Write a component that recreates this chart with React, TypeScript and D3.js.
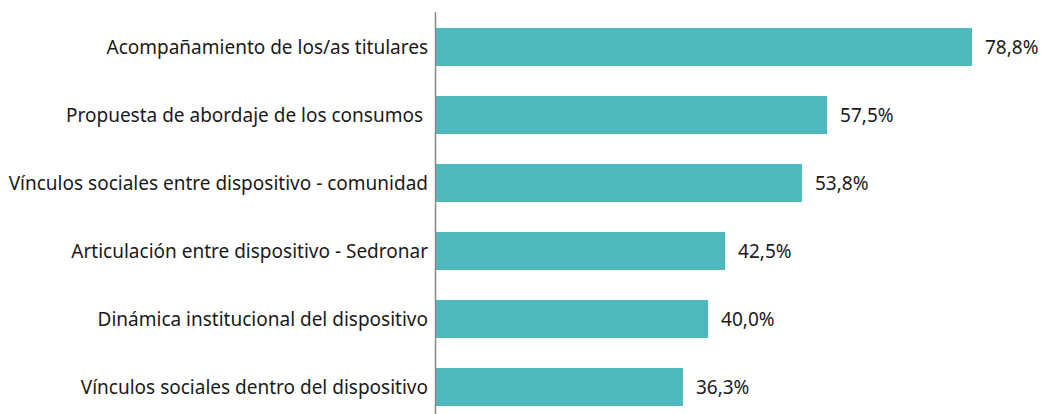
import React from "react";
import * as d3 from "d3";

const categories = [
  "Acompañamiento de los/as titulares",
  "Propuesta de abordaje de los consumos ",
  "Vínculos sociales entre dispositivo - comunidad",
  "Articulación entre dispositivo - Sedronar",
  "Dinámica institucional del dispositivo",
  "Vínculos sociales dentro del dispositivo",
];
const values = [78.8, 57.5, 53.8, 42.5, 40.0, 36.3];
const valueLabels = ["78,8%", "57,5%", "53,8%", "42,5%", "40,0%", "36,3%"];

const W = 1043;
const H = 414;
const FONT = "'Noto Sans', sans-serif";

export default function App() {
  const x = d3.scaleLinear().domain([0, 100]).range([436, 436 + 680.2]);
  const y = d3
    .scaleBand<string>()
    .domain(categories)
    .range([13, 421])
    .paddingInner(30 / 68)
    .paddingOuter(15 / 68);
  return (
    <svg width={W} height={H} style={{ position: "absolute", left: 0, top: 0, background: "#fff" }}>
      {categories.map((c, i) => {
        const yy = y(c)!;
        const bw = y.bandwidth();
        return (
          <g key={c}>
            <rect x={x(0)} y={yy} width={x(values[i]) - x(0)} height={bw} fill="#4eb8bd" />
            <text
              x={428}
              y={yy + bw / 2}
              dy="0.35em"
              textAnchor="end"
              fontFamily={FONT}
              fontSize={19}
              fill="#1a1a1a"
              style={{ whiteSpace: "pre" }}
            >
              {c}
            </text>
            <text
              x={x(values[i]) + 13}
              y={yy + bw / 2}
              dy="0.35em"
              fontFamily={FONT}
              fontSize={19}
              fill="#1a1a1a"
            >
              {valueLabels[i]}
            </text>
          </g>
        );
      })}
      <line x1={435.5} x2={435.5} y1={12} y2={H} stroke="#888" strokeWidth={1.5} />
    </svg>
  );
}
